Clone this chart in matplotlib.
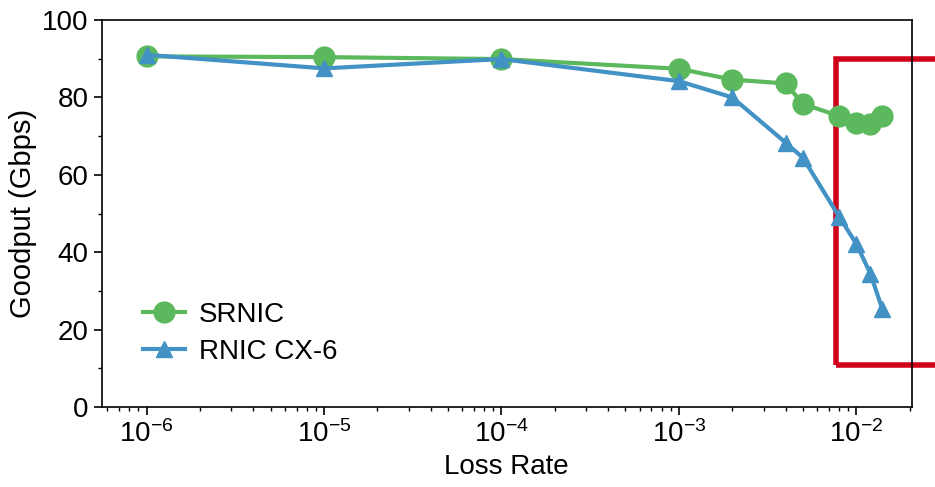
import matplotlib
matplotlib.use("Agg")
import matplotlib.pyplot as plt
from matplotlib.patches import Rectangle
from matplotlib.ticker import MultipleLocator

plt.rcParams['font.family'] = ['Liberation Sans', 'DejaVu Sans']
plt.rcParams['mathtext.fontset'] = 'custom'
plt.rcParams['mathtext.rm'] = 'Liberation Sans'

loss_rate = [1e-6, 1e-5, 1e-4, 1e-3, 2e-3, 4e-3, 5e-3, 8e-3, 1e-2, 1.2e-2, 1.4e-2]
srnic = [90.6, 90.4, 89.9, 87.4, 84.6, 83.6, 78.3, 75.2, 73.4, 73.2, 75.1]
rnic_cx6 = [91.0, 87.5, 89.9, 84.2, 80.0, 68.3, 64.4, 49.2, 42.2, 34.5, 25.4]

green = '#5cb85c'
blue = '#4292c6'

fig = plt.figure(figsize=(9.35, 4.87), dpi=100)
ax = fig.add_axes([0.109, 0.164, 0.866, 0.795])

ax.plot(loss_rate, srnic, color=green, marker='o', markersize=15, linewidth=3,
        label='SRNIC')
ax.plot(loss_rate, rnic_cx6, color=blue, marker='^', markersize=11, linewidth=3,
        label='RNIC CX-6')

ax.set_xscale('log')
ax.set_xlim(5.6e-7, 2.05e-2)
ax.set_ylim(0, 100)
ax.yaxis.set_major_locator(MultipleLocator(20))
ax.yaxis.set_minor_locator(MultipleLocator(10))
ax.tick_params(axis='both', which='major', labelsize=20, length=6, width=1.2)
ax.tick_params(axis='both', which='minor', length=3, width=1)
for sp in ax.spines.values():
    sp.set_linewidth(1.2)

ax.set_xlabel('Loss Rate', fontsize=20)
ax.set_ylabel('Goodput (Gbps)', fontsize=21)

ax.legend(loc='lower left', bbox_to_anchor=(0.02, 0.045), frameon=False,
          fontsize=20, handlelength=1.5, handletextpad=0.5, labelspacing=0.4)

# highlight box, running off the right edge of the figure
rect = Rectangle((7.7e-3, 10.8), 1.0, 79.1, fill=False, edgecolor='#d0021b',
                 linewidth=4, clip_on=False)
ax.add_patch(rect)

fig.savefig('out.png', dpi=100)
